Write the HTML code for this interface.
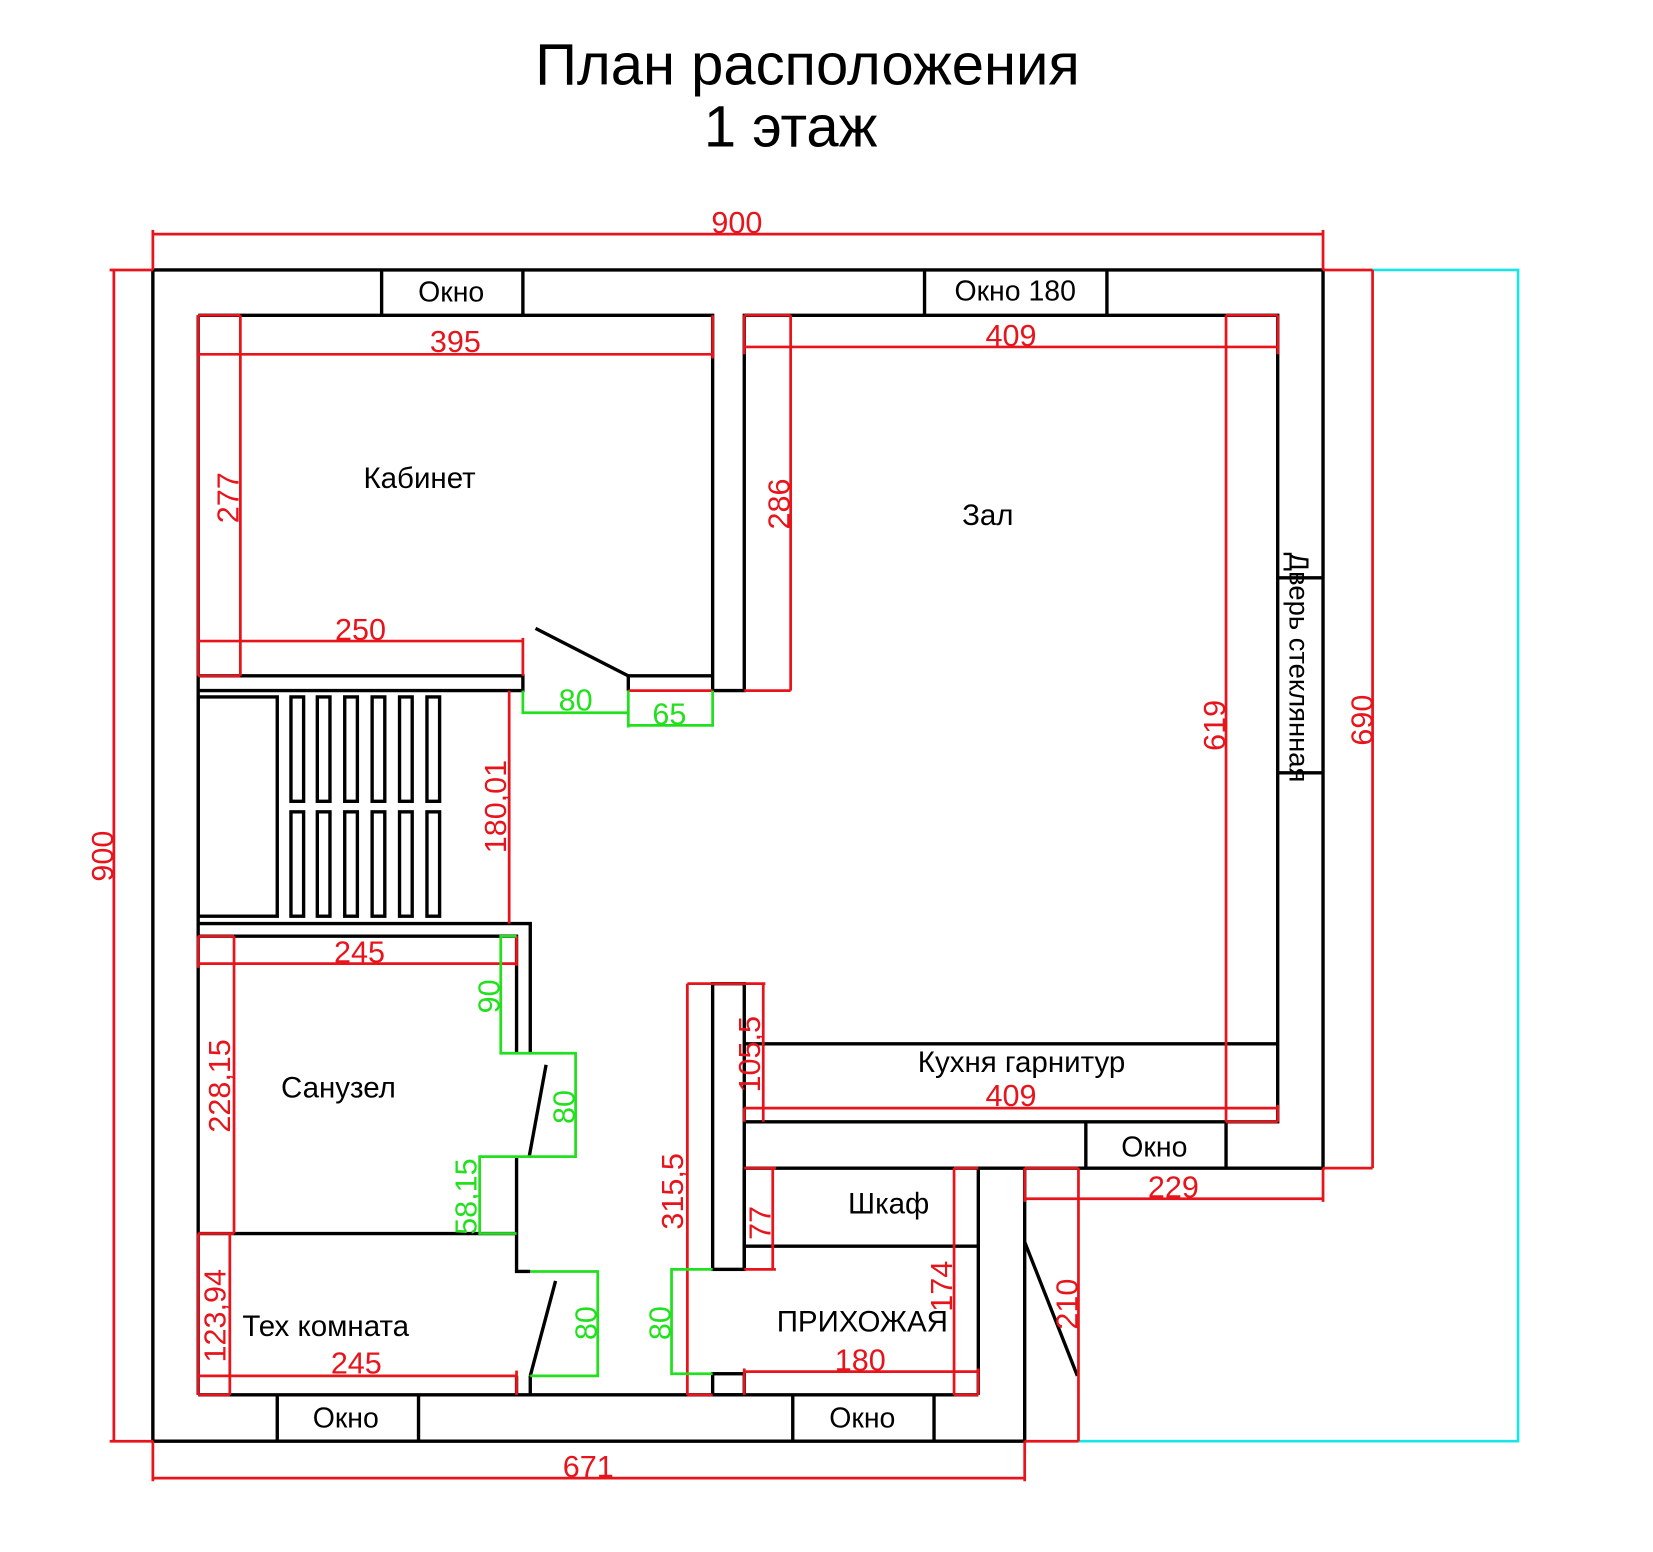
<!DOCTYPE html>
<html><head><meta charset="utf-8"><style>
html,body{margin:0;padding:0;background:#fff;}
svg{display:block;}
text{font-family:"Liberation Sans",sans-serif;}
</style></head><body>
<svg width="1653" height="1552" viewBox="0 0 1568 1472" xmlns="http://www.w3.org/2000/svg">
<rect width="1568" height="1472" fill="#fff"/>
<text x="766" y="80" font-size="55" text-anchor="middle">План расположения</text>
<text x="750" y="139" font-size="55" text-anchor="middle">1 этаж</text>

<g stroke="#19e5e5" stroke-width="2.5" fill="none">
<polyline points="1302,256 1440,256 1440,1367 1023,1367"/>
</g>

<g stroke="#000" stroke-width="3.2" fill="none">
<polyline points="145,256 1255,256 1255,1108 972,1108 972,1367 145,1367 145,256"/>
<polyline points="188,299 676,299 676,655 706,655 706,299 1212,299 1212,1064 706,1064"/>
<line x1="188" y1="299" x2="188" y2="1323"/>
<line x1="188" y1="1323" x2="928" y2="1323"/>
<line x1="928" y1="1108" x2="928" y2="1323"/>
<line x1="706" y1="1108" x2="972" y2="1108"/>
<line x1="362" y1="256" x2="362" y2="299"/><line x1="496" y1="256" x2="496" y2="299"/>
<line x1="877" y1="256" x2="877" y2="299"/><line x1="1050" y1="256" x2="1050" y2="299"/>
<line x1="263" y1="1323" x2="263" y2="1367"/><line x1="397" y1="1323" x2="397" y2="1367"/>
<line x1="752" y1="1323" x2="752" y2="1367"/><line x1="886" y1="1323" x2="886" y2="1367"/>
<line x1="1030" y1="1064" x2="1030" y2="1108"/><line x1="1163" y1="1064" x2="1163" y2="1108"/>
<line x1="1212" y1="548" x2="1255" y2="548"/><line x1="1212" y1="733" x2="1255" y2="733"/>
<polyline points="188,641 496,641 496,655 188,655"/>
<polyline points="676,641 596,641 596,655"/>
<line x1="508" y1="596" x2="596" y2="641"/>
<rect x="188" y="661" width="75" height="208"/>
<rect x="276" y="661" width="12" height="99"/><rect x="301" y="661" width="12" height="99"/><rect x="327" y="661" width="12" height="99"/><rect x="353" y="661" width="12" height="99"/><rect x="379" y="661" width="12" height="99"/><rect x="405" y="661" width="12" height="99"/>
<rect x="276" y="770" width="12" height="99"/><rect x="301" y="770" width="12" height="99"/><rect x="327" y="770" width="12" height="99"/><rect x="353" y="770" width="12" height="99"/><rect x="379" y="770" width="12" height="99"/><rect x="405" y="770" width="12" height="99"/>
<polyline points="188,876 503,876 503,999"/>
<polyline points="188,888 490,888 490,999"/>
<polyline points="490,1097 490,1206 503,1206"/>
<line x1="188" y1="1170" x2="490" y2="1170"/>
<line x1="518" y1="1010" x2="502" y2="1097"/>
<line x1="527" y1="1215" x2="503" y2="1305"/>
<line x1="490" y1="1305" x2="490" y2="1323"/><line x1="503" y1="1305" x2="503" y2="1323"/>
<rect x="676" y="933" width="30" height="271"/>
<line x1="706" y1="1204" x2="706" y2="1108"/>
<rect x="676" y="1303" width="30" height="20"/>
<line x1="706" y1="990" x2="1212" y2="990"/>
<line x1="706" y1="1182" x2="928" y2="1182"/>
<line x1="972" y1="1178" x2="1022" y2="1305"/>
</g>

<g stroke="#e8141c" stroke-width="2.6" fill="none">
<line x1="145" y1="222" x2="1255" y2="222"/><line x1="145" y1="218" x2="145" y2="256"/><line x1="1255" y1="218" x2="1255" y2="256"/>
<line x1="108" y1="256" x2="108" y2="1367"/><line x1="104" y1="256" x2="145" y2="256"/><line x1="104" y1="1367" x2="145" y2="1367"/>
<line x1="188" y1="299" x2="228" y2="299"/><line x1="188" y1="299" x2="188" y2="641"/><line x1="188" y1="641" x2="228" y2="641"/>
<line x1="188" y1="336" x2="676" y2="336"/><line x1="676" y1="299" x2="676" y2="340"/>
<line x1="228" y1="299" x2="228" y2="641"/>
<line x1="188" y1="608" x2="496" y2="608"/><line x1="496" y1="605" x2="496" y2="641"/>
<line x1="706" y1="329" x2="1212" y2="329"/><line x1="706" y1="299" x2="750" y2="299"/><line x1="1163" y1="299" x2="1212" y2="299"/>
<line x1="706" y1="299" x2="706" y2="336"/><line x1="1212" y1="299" x2="1212" y2="336"/>
<line x1="750" y1="299" x2="750" y2="655"/><line x1="706" y1="655" x2="750" y2="655"/>
<line x1="596" y1="655" x2="676" y2="655"/>
<line x1="1163" y1="299" x2="1163" y2="1064"/>
<line x1="483" y1="655" x2="483" y2="876"/>
<line x1="188" y1="914" x2="490" y2="914"/><line x1="188" y1="888" x2="222" y2="888"/><line x1="490" y1="888" x2="490" y2="916"/><line x1="188" y1="888" x2="188" y2="918"/>
<line x1="222" y1="888" x2="222" y2="1170"/>
<line x1="218" y1="1170" x2="218" y2="1323"/><line x1="188" y1="1170" x2="222" y2="1170"/><line x1="188" y1="1170" x2="188" y2="1323"/>
<line x1="188" y1="1305" x2="490" y2="1305"/><line x1="188" y1="1323" x2="218" y2="1323"/><line x1="490" y1="1300" x2="490" y2="1323"/>
<line x1="652" y1="933" x2="652" y2="1323"/><line x1="652" y1="933" x2="726" y2="933"/><line x1="652" y1="1323" x2="676" y2="1323"/>
<line x1="724" y1="933" x2="724" y2="1064"/>
<line x1="706" y1="1051" x2="1212" y2="1051"/><line x1="706" y1="1051" x2="706" y2="1064"/><line x1="1212" y1="1048" x2="1212" y2="1064"/><line x1="1163" y1="1064" x2="1212" y2="1064"/>
<line x1="733" y1="1108" x2="733" y2="1204"/><line x1="706" y1="1108" x2="736" y2="1108"/><line x1="706" y1="1204" x2="736" y2="1204"/>
<line x1="905" y1="1108" x2="905" y2="1323"/><line x1="905" y1="1108" x2="928" y2="1108"/><line x1="905" y1="1323" x2="928" y2="1323"/>
<line x1="706" y1="1301" x2="928" y2="1301"/><line x1="706" y1="1298" x2="706" y2="1323"/><line x1="928" y1="1298" x2="928" y2="1323"/>
<line x1="972" y1="1137" x2="1255" y2="1137"/><line x1="1255" y1="1108" x2="1255" y2="1140"/><line x1="972" y1="1108" x2="972" y2="1140"/>
<line x1="1023" y1="1108" x2="1023" y2="1367"/><line x1="972" y1="1108" x2="1023" y2="1108"/><line x1="972" y1="1367" x2="1023" y2="1367"/>
<line x1="1302" y1="256" x2="1302" y2="1108"/><line x1="1255" y1="256" x2="1302" y2="256"/><line x1="1255" y1="1108" x2="1302" y2="1108"/>
<line x1="145" y1="1402" x2="972" y2="1402"/><line x1="145" y1="1367" x2="145" y2="1405"/><line x1="972" y1="1367" x2="972" y2="1405"/>
</g>

<g stroke="#22e01e" stroke-width="2.6" fill="none">
<polyline points="496,655 496,676 596,676"/><line x1="596" y1="655" x2="596" y2="690"/>
<polyline points="596,688 676,688 676,655"/>
<polyline points="490,888 475,888 475,999 546,999 546,1097 455,1097 455,1170 490,1170"/>
<polyline points="503,1206 567,1206 567,1305 503,1305"/>
<polyline points="676,1204 637,1204 637,1303 676,1303"/>
</g>

<g fill="#e8141c" font-size="29" text-anchor="middle">
<text x="699" y="221">900</text>
<text x="432" y="334">395</text>
<text x="342" y="607">250</text>
<text x="959" y="328">409</text>
<text x="341" y="913">245</text>
<text x="338" y="1303">245</text>
<text x="959" y="1049">409</text>
<text x="816" y="1300">180</text>
<text x="1113" y="1136">229</text>
<text x="558" y="1401">671</text>
<text transform="translate(107,812) rotate(-90)">900</text>
<text transform="translate(226,472) rotate(-90)">277</text>
<text transform="translate(749,478) rotate(-90)">286</text>
<text transform="translate(1162,688) rotate(-90)">619</text>
<text transform="translate(1302,683) rotate(-90)">690</text>
<text transform="translate(480,765) rotate(-90)">180,01</text>
<text transform="translate(218,1030) rotate(-90)">228,15</text>
<text transform="translate(214,1248) rotate(-90)">123,94</text>
<text transform="translate(648,1130) rotate(-90)">315,5</text>
<text transform="translate(721,1000) rotate(-90)">105,5</text>
<text transform="translate(731,1160) rotate(-90)">77</text>
<text transform="translate(903,1220) rotate(-90)">174</text>
<text transform="translate(1022,1237) rotate(-90)">210</text>
</g>
<g fill="#22e01e" font-size="29" text-anchor="middle">
<text x="546" y="674">80</text>
<text x="635" y="687">65</text>
<text transform="translate(474,945) rotate(-90)">90</text>
<text transform="translate(545,1050) rotate(-90)">80</text>
<text transform="translate(452,1135) rotate(-90)">58,15</text>
<text transform="translate(566,1255) rotate(-90)">80</text>
<text transform="translate(636,1255) rotate(-90)">80</text>
</g>

<g fill="#000" font-size="27" text-anchor="middle">
<text x="428" y="286">Окно</text>
<text x="963" y="285">Окно 180</text>
<text x="328" y="1354">Окно</text>
<text x="818" y="1354">Окно</text>
<text x="1095" y="1097">Окно</text>
<text x="398" y="463" font-size="28">Кабинет</text>
<text x="937" y="498" font-size="28">Зал</text>
<text x="969" y="1017" font-size="28">Кухня гарнитур</text>
<text x="843" y="1151" font-size="28">Шкаф</text>
<text x="818" y="1263" font-size="28">ПРИХОЖАЯ</text>
<text x="321" y="1041" font-size="28">Санузел</text>
<text x="309" y="1267" font-size="28">Тех комната</text>
<text transform="translate(1223,633) rotate(90)" font-size="26">Дверь стеклянная</text>
</g>
</svg>
</body></html>
